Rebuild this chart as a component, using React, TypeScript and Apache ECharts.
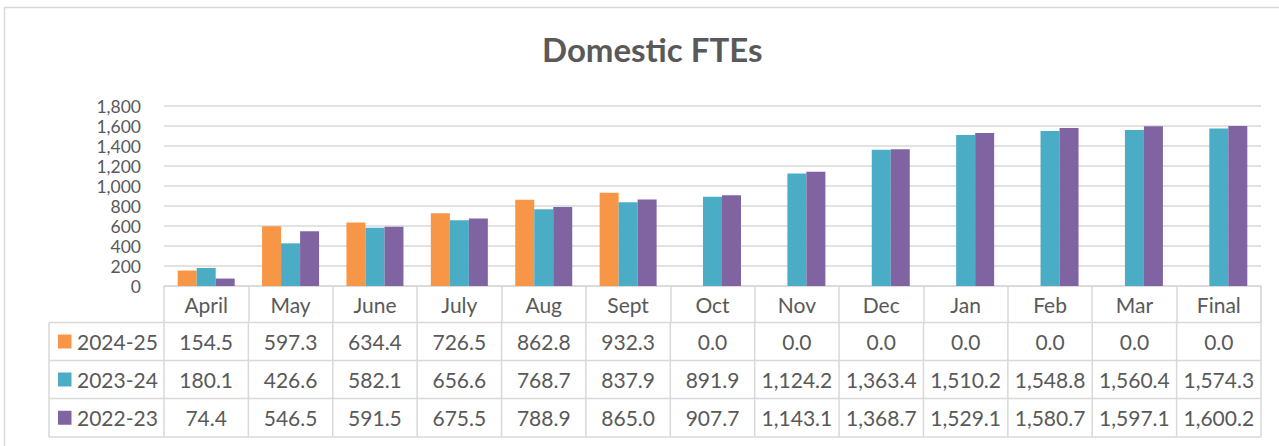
import React, { useEffect, useRef } from "react";
import * as echarts from "echarts";

const categories = ["April", "May", "June", "July", "Aug", "Sept", "Oct", "Nov", "Dec", "Jan", "Feb", "Mar", "Final"];
const seriesNames = ["2024-25", "2023-24", "2022-23"];
const fy2425 = [154.5, 597.3, 634.4, 726.5, 862.8, 932.3, 0.0, 0.0, 0.0, 0.0, 0.0, 0.0, 0.0];
const fy2324 = [180.1, 426.6, 582.1, 656.6, 768.7, 837.9, 891.9, 1124.2, 1363.4, 1510.2, 1548.8, 1560.4, 1574.3];
const fy2223 = [74.4, 546.5, 591.5, 675.5, 788.9, 865.0, 907.7, 1143.1, 1368.7, 1529.1, 1580.7, 1597.1, 1600.2];
const seriesData = [fy2425, fy2324, fy2223];
const colors = ["#F79646", "#4BACC6", "#8064A2"];
const yTicks = { min: 0, max: 1800, interval: 200 };

const FONT = "Lato, 'Noto Sans', sans-serif";
const TXT = "#595959";
const GRID = "#d9d9d9";

export default function App() {
  const ref = useRef<HTMLDivElement>(null);
  useEffect(() => {
    if (!ref.current) return;
    const chart = echarts.init(ref.current, null, { renderer: "svg" });
    const W = 1279, H = 446;
    const L = 164, R = 1261, TOP = 106, AXIS_Y = 286;
    const colW = (R - L) / categories.length;
    const rowLines = [322.5, 360.5, 398.5, 437];
    const legendLeft = 49;
    const fmt = (v: number) => v.toLocaleString("en-US", { minimumFractionDigits: 1, maximumFractionDigits: 1 });

    const graphic: any[] = [];
    graphic.push({ type: "rect", shape: { x: 4.5, y: 7.5, width: 1290, height: 450 }, style: { fill: "none", stroke: GRID, lineWidth: 1.5 }, silent: true });
    rowLines.forEach((y) => {
      graphic.push({ type: "line", shape: { x1: legendLeft, y1: y, x2: R, y2: y }, style: { stroke: GRID, lineWidth: 1.5 } });
    });
    graphic.push({ type: "line", shape: { x1: legendLeft, y1: rowLines[0], x2: legendLeft, y2: rowLines[3] }, style: { stroke: GRID, lineWidth: 1.5 } });
    for (let j = 0; j <= categories.length; j++) {
      const x = L + colW * j;
      graphic.push({ type: "line", shape: { x1: x, y1: j === categories.length ? AXIS_Y : rowLines[0], x2: x, y2: rowLines[3] }, style: { stroke: GRID, lineWidth: 1.5 } });
    }
    seriesNames.forEach((name, i) => {
      const mid = (rowLines[i] + rowLines[i + 1]) / 2;
      graphic.push({ type: "rect", shape: { x: 58, y: mid - 7, width: 13.5, height: 14 }, style: { fill: colors[i] } });
      graphic.push({ type: "text", x: 77, y: mid, style: { text: name, fill: TXT, font: `21px ${FONT}`, align: "left", verticalAlign: "middle" } });
      seriesData[i].forEach((v, j) => {
        graphic.push({ type: "text", x: L + colW * (j + 0.5), y: mid, style: { text: fmt(v), fill: TXT, font: `21px ${FONT}`, align: "center", verticalAlign: "middle" } });
      });
    });

    chart.setOption({
      animation: false,
      title: {
        text: "Domestic FTEs",
        left: 537,
        top: 27,
        textStyle: { color: TXT, fontSize: 33, fontWeight: "bold", fontFamily: FONT },
      },
      grid: { left: L, right: W - R, top: TOP, bottom: H - AXIS_Y, containLabel: false },
      xAxis: {
        type: "category",
        data: categories,
        axisLine: { lineStyle: { color: GRID, width: 1.5 } },
        axisTick: { show: true, length: 36.5, lineStyle: { color: GRID, width: 1.5 } },
        axisLabel: { color: TXT, fontSize: 21, fontFamily: FONT, margin: 18, verticalAlign: "middle", interval: 0 },
      },
      yAxis: {
        type: "value",
        min: yTicks.min,
        max: yTicks.max,
        interval: yTicks.interval,
        axisLine: { show: false },
        axisTick: { show: false },
        splitLine: { lineStyle: { color: GRID, width: 1.5 } },
        axisLabel: {
          color: TXT,
          fontSize: 17.5,
          lineHeight: 17,
          fontFamily: FONT,
          margin: 23,
          formatter: (v: number) => v.toLocaleString("en-US"),
        },
      },
      series: seriesNames.map((name, i) => ({
        name,
        type: "bar",
        data: seriesData[i],
        barWidth: 19,
        barGap: "0%",
        itemStyle: { color: colors[i] },
      })),
      graphic,
    });
    return () => chart.dispose();
  }, []);
  return <div ref={ref} style={{ position: "absolute", left: 0, top: 0, width: 1279, height: 446, background: "#fff" }} />;
}
